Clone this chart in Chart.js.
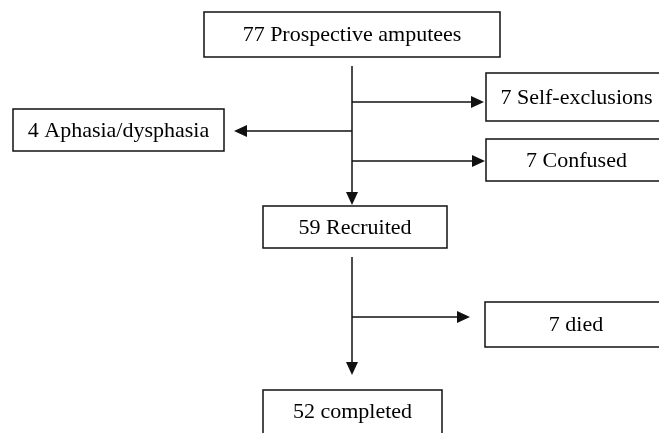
<!DOCTYPE html>
<html>
<head>
<meta charset="utf-8">
<script src="https://cdn.jsdelivr.net/npm/chart.js@4/dist/chart.umd.min.js"></script>
<style>
  html, body { margin: 0; padding: 0; background: #fff; }
  #flow { display: block; }
</style>
</head>
<body>
<canvas id="flow" width="659" height="433"></canvas>
<script>
// flow stages: count + description
const counts = [77, 7, 4, 7, 59, 7, 52];
const stageNames = ['Prospective amputees', 'Self-exclusions', 'Aphasia/dysphasia', 'Confused', 'Recruited', 'died', 'completed'];

// layout of the diagram (in scale units, y grows downward)
const boxes = [
    [204, 500, 12, 57],
    [486, 667, 73, 121],
    [13, 224, 109, 151],
    [486, 667, 139, 181],
    [263, 447, 206, 248],
    [485, 667, 302, 347],
    [263, 442, 390, 434]
];
// connectors: [x1, y1, x2, y2, arrow?]
const links = [
    [352, 66, 352, 205, true],
    [352, 102, 484, 102, true],
    [352, 131, 234, 131, true],
    [352, 161, 485, 161, true],
    [352, 257, 352, 375, true],
    [352, 317, 470, 317, true]
];

const flowPlugin = {
    id: 'flow',
    afterDraw(chart) {
        const ctx = chart.ctx;
        const sx = chart.scales.x, sy = chart.scales.y;
        const px = v => sx.getPixelForValue(v);
        const py = v => sy.getPixelForValue(v);
        ctx.save();
        ctx.strokeStyle = '#111';
        ctx.fillStyle = '#111';
        ctx.lineWidth = 1.5;

        boxes.forEach((b, i) => {
            const x0 = px(b[0]), x1 = px(b[1]), y0 = py(b[2]), y1 = py(b[3]);
            ctx.strokeRect(x0, y0, x1 - x0, y1 - y0);
            ctx.save();
            ctx.fillStyle = '#000';
            ctx.font = '22px "Liberation Serif", "Times New Roman", serif';
            ctx.textAlign = 'center';
            ctx.textBaseline = 'middle';
            let cy = (y0 + y1) / 2;
            if (i === 6) cy = py(411);
            ctx.fillText(counts[i] + ' ' + stageNames[i], (x0 + x1) / 2, cy + 1);
            ctx.restore();
        });

        links.forEach(l => {
            const x1 = px(l[0]), y1 = py(l[1]), x2 = px(l[2]), y2 = py(l[3]);
            const ang = Math.atan2(y2 - y1, x2 - x1);
            const len = 13, half = 6;
            const bx = x2 - len * Math.cos(ang), by = y2 - len * Math.sin(ang);
            ctx.beginPath();
            ctx.moveTo(x1, y1);
            ctx.lineTo(bx, by);
            ctx.stroke();
            if (l[4]) {
                ctx.beginPath();
                ctx.moveTo(x2, y2);
                ctx.lineTo(bx - half * Math.sin(ang), by + half * Math.cos(ang));
                ctx.lineTo(bx + half * Math.sin(ang), by - half * Math.cos(ang));
                ctx.closePath();
                ctx.fill();
            }
        });
        ctx.restore();
    }
};

new Chart(document.getElementById('flow').getContext('2d'), {
    type: 'scatter',
    data: {
        datasets: [{
            label: 'stages',
            data: boxes.map((b, i) => ({ x: (b[0] + b[1]) / 2, y: (b[2] + b[3]) / 2, n: counts[i] })),
            pointRadius: 0,
            pointHoverRadius: 0
        }]
    },
    options: {
        responsive: false,
        animation: false,
        layout: { padding: 0 },
        plugins: { legend: { display: false }, tooltip: { enabled: false } },
        scales: {
            x: { type: 'linear', min: 0, max: 659, display: false },
            y: { type: 'linear', min: 0, max: 433, reverse: true, display: false }
        }
    },
    plugins: [flowPlugin]
});
</script>
</body>
</html>
